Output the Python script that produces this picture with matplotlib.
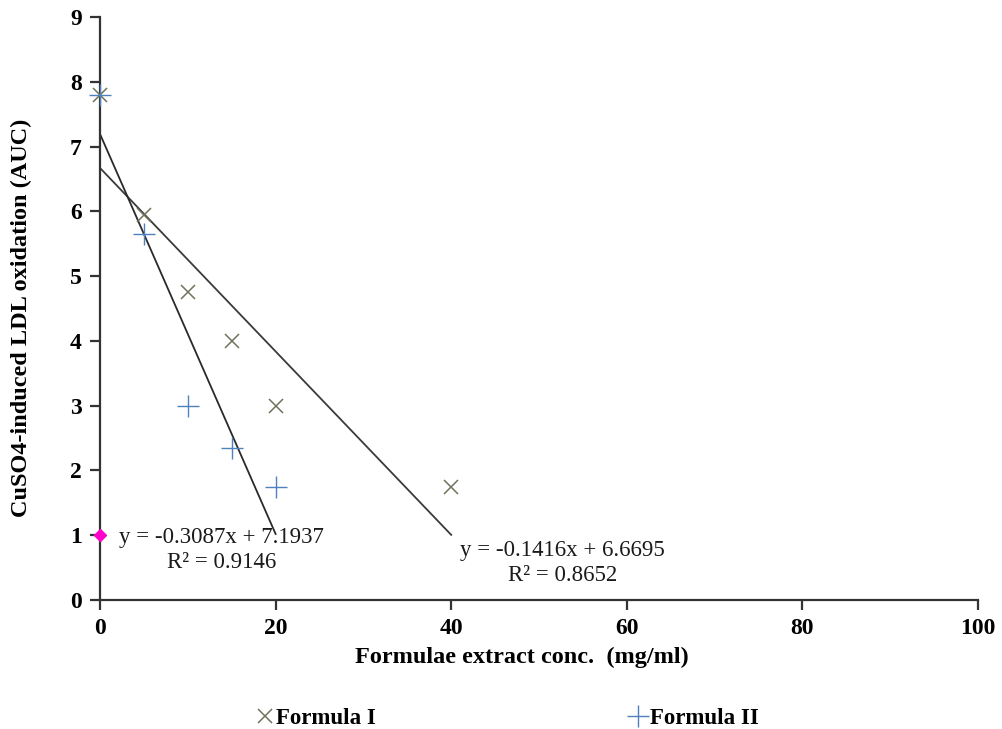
import numpy as np
import matplotlib
matplotlib.use("Agg")
import matplotlib.pyplot as plt

plt.rcParams['font.family'] = ['Liberation Serif', 'DejaVu Serif']

# Data
conc_f1 = [0, 5, 10, 15, 20, 40]
auc_f1 = [7.8, 5.95, 4.75, 4.0, 3.0, 1.75]
conc_f2 = [0, 5, 10, 15, 20]
auc_f2 = [7.8, 5.65, 3.0, 2.35, 1.75]
fit_f1 = (-0.1416, 6.6695)
fit_f2 = (-0.3087, 7.1937)
fit_range_f1 = [0, 40]
fit_range_f2 = [0, 20]
extra_point = (0, 1)
xticks = [0, 20, 40, 60, 80, 100]
yticks = list(range(0, 10))

fig = plt.figure(figsize=(10.03, 7.29), dpi=100)
ax = fig.add_axes([100/1003, 1-600/729, 878/1003, 583/729])

c1 = '#6f735c'
c2 = '#4f81bd'

ax.plot(conc_f1, auc_f1, linestyle='none', marker='x', color=c1, markersize=10, markeredgewidth=1.1,
        label='Formula I', zorder=3, clip_on=False)
ax.plot(conc_f2, auc_f2, linestyle='none', marker='+', color=c2, markersize=16, markeredgewidth=1.0,
        label='Formula II', zorder=3, clip_on=False)

xr1 = np.array(fit_range_f1, dtype=float)
ax.plot(xr1, fit_f1[0]*xr1 + fit_f1[1], color='#3a3a3a', linewidth=1.3, zorder=2)
xr2 = np.array(fit_range_f2, dtype=float)
ax.plot(xr2, fit_f2[0]*xr2 + fit_f2[1], color='#2a2a2a', linewidth=1.3, zorder=2)

ax.plot([extra_point[0]], [extra_point[1]], marker='D', color='#ff00cc', markersize=6, linestyle='none',
        clip_on=False, zorder=4)

ax.text(2.2, 1.12, 'y = -0.3087x + 7.1937\nR² = 0.9146', fontsize=16.5, ha='left', va='top',
        multialignment='center', linespacing=1.2, color='#1a1a1a')
ax.text(41.0, 0.92, 'y = -0.1416x + 6.6695\nR² = 0.8652', fontsize=16.5, ha='left', va='top',
        multialignment='center', linespacing=1.2, color='#1a1a1a')

ax.set_xlim(0, 100)
ax.set_ylim(0, 9)
ax.set_xticks(xticks)
ax.set_yticks(yticks)
ax.spines['top'].set_visible(False)
ax.spines['right'].set_visible(False)
for s in ['left', 'bottom']:
    ax.spines[s].set_linewidth(1.6)
    ax.spines[s].set_color('#333333')
ax.tick_params(direction='out', length=7, width=1.6, color='#333333', labelsize=17, pad=6)
for lab in ax.get_xticklabels() + ax.get_yticklabels():
    lab.set_fontweight('bold')

ax.set_xlabel('Formulae extract conc.  (mg/ml)', fontsize=17.5, fontweight='bold')
ax.set_ylabel('CuSO4-induced LDL oxidation (AUC)', fontsize=17.5, fontweight='bold')
ax.xaxis.set_label_coords((522-100)/878, -(647-600)/583)
ax.yaxis.set_label_coords(-(100-32)/878, (600-318)/583)

fig.legend(loc='center', bbox_to_anchor=(0.505, 1-718/729), ncol=2, frameon=False,
           prop={'weight': 'bold', 'size': 16.5}, columnspacing=11, handletextpad=0.05,
           handlelength=0.9)

fig.savefig('out.png', dpi=100)
